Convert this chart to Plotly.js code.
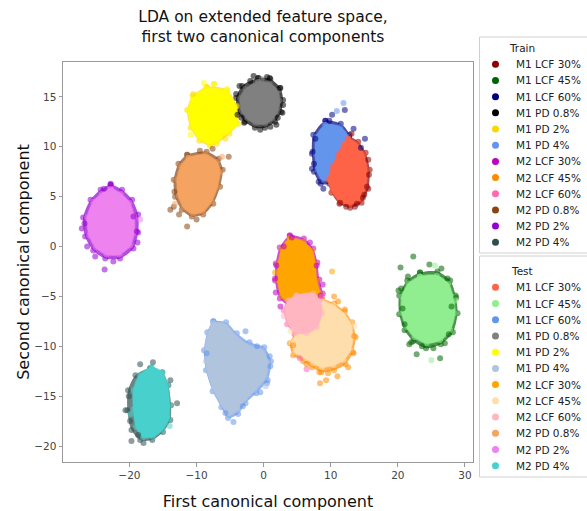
<!DOCTYPE html>
<html><head><meta charset="utf-8">
<script src="https://cdn.plot.ly/plotly-3.0.1.min.js"></script>
<style>html,body{margin:0;padding:0;background:#fff}#chart{width:587px;height:511px}</style>
</head><body><div id="chart"></div>
<script>
// ---- data ----
const seriesNames = ['M1 LCF 30%','M1 LCF 45%','M1 LCF 60%','M1 PD 0.8%','M1 PD 2%','M1 PD 4%',
                     'M2 LCF 30%','M2 LCF 45%','M2 LCF 60%','M2 PD 0.8%','M2 PD 2%','M2 PD 4%'];
const trainColors = ['#8B0000','#006400','#000080','#000000','#FFD700','#6495ED',
                     '#BF00BF','#FF8C00','#FF69B4','#8B4513','#9400D3','#2F4F4F'];
const testColors  = ['#FF6347','#90EE90','#6495ED','#808080','#FFFF00','#B0C4DE',
                     '#FFA500','#FFDEAD','#FFB6C1','#F4A460','#EE82EE','#48D1CC'];

// dense body outlines of each cluster (train)
const trainHullX = [
  [12.7,14.1,15.2,15.8,15.6,14.6,12.9,11.3,10.1,9.6,10.2,11.1,11.9],
  [23.3,25.9,27.8,28.6,28.9,28.2,26.4,24.2,22.3,21.0,20.2,20.2,21.4],
  [9.2,11.5,12.8,12.6,11.4,9.8,8.5,7.5,7.2,7.4],
  [-0.8,1.0,2.5,2.9,2.6,1.7,0.2,-1.3,-2.8,-3.8,-4.1,-3.2],
  [-8.5,-5.4,-4.0,-3.8,-5.1,-7.0,-8.0,-9.6,-10.9,-11.4,-10.6],
  [-7.5,-5.6,-4.0,-2.1,0.1,1.1,0.6,-1.1,-2.7,-3.8,-5.3,-6.3,-7.6,-8.6,-8.9,-8.4],
  [3.9,6.0,7.4,8.0,8.3,8.8,8.2,6.4,4.3,2.4,1.7,1.8,2.4],
  [8.7,10.5,12.1,13.2,13.7,13.3,12.2,10.5,8.6,7.2,5.9,4.4,3.9,4.7,6.9,8.2,8.4],
  [4.9,7.4,8.5,8.8,8.0,6.4,4.6,3.5,3.0,3.5],
  [-11.4,-8.5,-6.7,-6.1,-6.5,-7.5,-9.0,-10.7,-12.2,-13.2,-13.4,-12.7],
  [-22.8,-21.1,-19.6,-18.7,-18.7,-19.4,-21.4,-23.6,-25.4,-26.6,-26.9,-25.8,-24.3],
  [-16.9,-15.1,-14.2,-13.8,-13.9,-15.0,-16.6,-18.4,-19.7,-20.3,-20.2,-19.1]
];
const trainHullY = [
  [11.0,10.5,9.4,7.7,5.8,4.4,3.9,4.3,5.4,6.7,8.0,9.3,10.4],
  [-2.6,-2.5,-3.4,-4.9,-6.7,-8.6,-9.8,-10.2,-9.5,-8.4,-6.8,-4.9,-3.4],
  [12.6,12.3,11.2,9.3,7.5,6.3,6.3,7.5,9.3,11.2],
  [16.9,16.8,15.9,14.7,13.5,12.5,11.9,11.9,12.5,13.5,14.9,16.1],
  [16.0,15.7,14.1,12.3,11.3,10.3,10.1,10.6,11.9,13.7,15.1],
  [-7.5,-7.6,-8.7,-9.6,-10.1,-11.5,-13.4,-14.7,-15.7,-16.8,-17.2,-16.1,-14.5,-12.4,-10.4,-8.6],
  [1.1,0.8,-0.2,-1.6,-3.3,-4.7,-6.0,-6.4,-6.1,-5.2,-3.4,-1.7,-0.1],
  [-5.3,-5.7,-6.5,-7.6,-9.1,-10.6,-11.8,-12.4,-12.6,-12.1,-11.5,-10.9,-9.7,-8.8,-8.3,-7.0,-6.0],
  [-4.7,-4.5,-5.3,-6.7,-8.2,-8.9,-8.8,-7.8,-6.4,-5.3],
  [9.2,9.5,8.8,7.7,6.0,4.3,3.2,3.0,3.7,5.0,6.7,8.3],
  [6.2,5.7,4.7,3.2,1.4,-0.2,-1.2,-1.2,-0.4,1.0,2.9,4.7,5.7],
  [-12.2,-12.6,-13.9,-15.9,-17.4,-18.6,-19.4,-19.4,-18.4,-16.4,-14.4,-12.9]
];
// dense body outlines of each cluster (test)
const testHullX = [
  [12.6,13.9,14.9,15.4,15.2,14.4,12.9,11.4,10.2,9.6,10.2,11.1,11.9],
  [23.3,25.8,27.5,28.2,28.5,27.8,26.3,24.3,22.5,21.3,20.6,20.6,21.6],
  [9.2,11.4,12.6,12.4,11.4,9.9,8.7,7.9,7.7,7.8],
  [-0.8,0.9,2.1,2.4,2.1,1.4,0.2,-1.2,-2.4,-3.3,-3.5,-2.7],
  [-8.5,-5.5,-4.2,-4.0,-5.2,-7.0,-8.0,-9.5,-10.7,-11.2,-10.5],
  [-7.5,-5.7,-4.2,-2.3,-0.2,0.7,0.2,-1.3,-2.8,-3.9,-5.3,-6.2,-7.5,-8.4,-8.7,-8.3],
  [3.9,5.9,7.2,7.7,7.9,8.4,7.9,6.4,4.4,2.7,2.1,2.2,2.7],
  [8.7,10.4,11.9,12.9,13.3,12.9,11.9,10.4,8.7,7.4,6.2,4.7,4.2,4.9,6.9,8.2,8.4],
  [4.9,7.4,8.4,8.7,7.9,6.4,4.7,3.7,3.2,3.7],
  [-11.2,-8.6,-7.0,-6.5,-6.9,-7.8,-9.1,-10.6,-11.9,-12.7,-12.9,-12.3],
  [-22.8,-21.3,-20.0,-19.3,-19.3,-19.9,-21.5,-23.4,-25.0,-26.0,-26.3,-25.4,-24.1],
  [-16.7,-15.1,-14.3,-14.0,-14.1,-15.1,-16.5,-18.0,-19.0,-19.4,-19.4,-18.5]
];
const testHullY = [
  [10.8,10.3,9.3,7.7,6.0,4.7,4.2,4.5,5.5,6.7,8.0,9.3,10.3],
  [-3.0,-2.9,-3.7,-5.0,-6.7,-8.4,-9.4,-9.7,-9.1,-8.1,-6.7,-5.0,-3.7],
  [12.2,12.0,11.0,9.3,7.7,6.7,6.7,7.7,9.3,11.0],
  [16.5,16.4,15.6,14.6,13.6,12.8,12.3,12.3,12.8,13.6,14.9,15.8],
  [15.8,15.5,14.0,12.3,11.5,10.5,10.3,10.8,12.0,13.7,15.0],
  [-7.7,-7.8,-8.9,-9.9,-10.4,-11.6,-13.2,-14.4,-15.4,-16.4,-16.9,-15.9,-14.4,-12.4,-10.4,-8.7],
  [0.8,0.5,-0.4,-1.7,-3.4,-4.7,-5.9,-6.2,-5.9,-5.0,-3.4,-1.7,-0.2],
  [-5.5,-5.9,-6.7,-7.7,-9.1,-10.4,-11.4,-11.9,-12.1,-11.7,-11.2,-10.6,-9.6,-8.9,-8.4,-7.0,-6.0],
  [-4.9,-4.7,-5.4,-6.7,-8.1,-8.7,-8.6,-7.7,-6.4,-5.4],
  [8.9,9.2,8.5,7.5,6.0,4.5,3.5,3.3,3.9,5.1,6.7,8.1],
  [5.8,5.3,4.4,3.0,1.4,0.1,-0.8,-0.8,-0.1,1.1,2.9,4.5,5.3],
  [-12.1,-12.6,-13.9,-15.9,-17.3,-18.4,-19.1,-19.1,-18.1,-16.3,-14.4,-12.9]
];
// scattered individual points (train)
const trainDotsX = [
  [15.4,13.9,11.4,13.1,15.6,15.0,14.8,12.3,15.7,13.6],
  [22.3,20.4,20.1,21.7,22.8,26.3,24.7,26.5,27.4,28.0,20.7,25.3,21.0,27.6,23.6,21.5,28.7,27.0,20.5,22.0],
  [12.1,10.2,15.1,7.2,8.9,13.4,7.7,14.5,7.5,8.2,7.3,9.8],
  [0.5,-2.0,2.9,1.0,-3.9,-0.5,2.4,-4.1,-2.9,1.9,-3.6,2.8,-1.5,0.9,-3.3,2.1],
  [-7.4,-10.5,-5.7],
  [-2.7,-1.0,0.5,-8.5,-5.7,-4.5,1.0,-0.5,0.9,-3.1],
  [4.2,6.9,8.8,1.7,2.5,3.0,7.9,1.9,8.5,1.8],
  [8.4,9.3,11.0,12.6,13.5,12.1,10.5,11.1,8.3,9.6,4.4,13.4,6.4],
  [6.4,5.4,8.7],
  [-13.9,-11.4,-5.2,-7.6,-13.4,-12.6,-9.5,-13.3,-10.0],
  [-22.8,-23.8,-27.1,-25.1,-23.7,-22.4,-19.4,-18.9,-26.3,-18.8,-26.7],
  [-16.5,-18.4,-12.9,-19.7,-17.9,-20.6,-13.9,-19.9,-20.1,-18.7]
];
const trainDotsY = [
  [6.0,4.3,4.4,11.3,8.7,5.2,4.9,4.0,7.2,4.0],
  [-1.0,-2.1,-4.4,-9.8,-10.8,-11.2,-1.8,-2.2,-3.2,-6.0,-6.2,-10.2,-7.8,-8.8,-10.0,-3.0,-5.1,-9.7,-4.2,-9.6],
  [13.7,13.2,10.8,7.8,5.8,11.8,10.8,9.9,8.3,6.5,9.5,12.6],
  [17.0,16.6,14.2,12.0,13.2,11.7,15.9,15.3,12.4,12.2,16.1,13.4,17.1,16.9,12.9,12.9],
  [16.3,15.3,10.8],
  [-8.5,-10.0,-13.7,-10.7,-16.7,-17.6,-12.0,-14.6,-11.0,-16.0],
  [0.9,0.4,-3.8,-3.2,-6.0,0.0,-1.9,-1.9,-4.9,-4.6],
  [-13.7,-13.4,-13.0,-12.1,-9.0,-6.3,-5.0,-5.5,-12.6,-12.7,-9.9,-10.7,-11.8],
  [-12.3,-11.2,-5.0],
  [3.7,2.0,9.0,9.8,4.0,3.2,9.6,5.5,2.7],
  [6.3,5.8,1.8,-1.0,-2.3,-1.5,3.0,1.5,0.0,0.4,2.3],
  [-11.6,-11.8,-15.7,-19.5,-19.7,-16.4,-13.4,-17.5,-15.0,-18.9]
];
// scattered individual points (test)
const testDotsX = [
  [10.5,11.6],
  [25.5,25.0,28.6],
  [11.9,10.9],
  [-0.3],
  [-8.9,-7.4,-10.9,-5.5],
  [-8.6,0.3],
  [1.7,10.2],
  [4.0,13.5],
  [3.0],
  [-6.2,-13.2],
  [-18.4],
  [-19.8,-14.0]
];
const testDotsY = [
  [7.4,6.2],
  [-1.9,-11.4,-5.4],
  [14.4,13.6],
  [16.8],
  [16.4,16.3,11.2,15.8],
  [-11.5,-14.0],
  [-2.6,-2.5],
  [-8.5,-8.0],
  [-7.0],
  [9.0,4.3],
  [2.7],
  [-16.8,-18.0]
];
const testDrawOrder = [2,0,1,3,4,5,6,7,8,9,10,11];

// ---- chart ----
const W = 587, H = 511, M = {l:63, r:114, t:62, b:49};
const pw = W - M.l - M.r, ph = H - M.t - M.b;
function paperX(px){ return (px - M.l) / pw; }
function paperY(py){ return (H - M.b - py) / ph; }
function rgba(hex, a){
  const n = parseInt(hex.slice(1),16);
  return 'rgba('+((n>>16)&255)+','+((n>>8)&255)+','+(n&255)+','+a+')';
}
const traces = [];
function hullTrace(hx, hy, col, fillA, lineW){
  return {x: hx.concat([hx[0]]), y: hy.concat([hy[0]]), type:'scatter', mode:'lines+markers',
    fill:'toself', fillcolor: rgba(col, fillA), line:{color: rgba(col,0.6), width: lineW, shape:'spline', smoothing:0.8},
    marker:{size:6, color: rgba(col,0.55)}, showlegend:false, hoverinfo:'skip'};
}
function dotsTrace(dx, dy, col){
  return {x: dx, y: dy, type:'scatter', mode:'markers',
    marker:{size:6, color: rgba(col,0.55), line:{width:0}}, showlegend:false, hoverinfo:'skip'};
}
for (let i=0;i<seriesNames.length;i++) traces.push(hullTrace(trainHullX[i], trainHullY[i], trainColors[i], 0.7, 0));
for (const i of testDrawOrder) traces.push(hullTrace(testHullX[i], testHullY[i], testColors[i], 1, 1.5));
for (let i=0;i<seriesNames.length;i++) traces.push(dotsTrace(trainDotsX[i], trainDotsY[i], trainColors[i]));
for (let i=0;i<seriesNames.length;i++) traces.push(dotsTrace(testDotsX[i], testDotsY[i], testColors[i]));

// legend boxes drawn as shapes + annotations
const shapes = [], annotations = [];
function addLegend(title, colors, boxTop, boxBottom, titleY, firstY, step){
  shapes.push({type:'rect', xref:'paper', yref:'paper', x0:paperX(479.5), x1:paperX(610),
    y0:paperY(boxBottom), y1:paperY(boxTop), line:{color:'#d0d0d0', width:1}, fillcolor:'rgba(255,255,255,0.9)', layer:'above'});
  annotations.push({xref:'paper', yref:'paper', x:paperX(522), y:paperY(titleY), text:title, showarrow:false,
    xanchor:'center', yanchor:'middle', font:{size:10.5, color:'#222'}});
  for (let i=0;i<seriesNames.length;i++){
    const cy = firstY + i*step;
    shapes.push({type:'circle', xref:'paper', yref:'paper', xsizemode:'pixel', ysizemode:'pixel',
      xanchor:paperX(495.5), yanchor:paperY(cy), x0:-3.5, x1:3.5, y0:-3.5, y1:3.5,
      fillcolor:colors[i], line:{width:0}, layer:'above'});
    annotations.push({xref:'paper', yref:'paper', x:paperX(514), y:paperY(cy), text:seriesNames[i], showarrow:false,
      xanchor:'left', yanchor:'middle', font:{size:10.5, color:'#222'}});
  }
}
addLegend('Train', trainColors, 37, 253, 48, 64.3, 16.18);
addLegend('Test', testColors, 256, 477, 271, 287.3, 16.22);

const axisCommon = {showgrid:false, zeroline:false, showline:true, mirror:true, linecolor:'#999', linewidth:1,
  ticks:'outside', ticklen:3.5, tickcolor:'#999', tickfont:{size:10.5, color:'#444'}, automargin:false};
const layout = {
  width:W, height:H,
  font:{family:'DejaVu Sans, sans-serif', color:'#222'},
  paper_bgcolor:'#fff', plot_bgcolor:'#fff',
  margin:{l:M.l, r:M.r, t:M.t, b:M.b, autoexpand:false},
  title:{text:'LDA on extended feature space,<br>first two canonical components', x:paperX(263), xref:'paper',
    xanchor:'center', yref:'container', y:0.9575, yanchor:'top', font:{size:15.5, color:'#111'}},
  xaxis: Object.assign({}, axisCommon, {range:[-29.9,31.2], tick0:0, dtick:10,
    title:{text:'First canonical component', font:{size:16, color:'#111'}, standoff:15}}),
  yaxis: Object.assign({}, axisCommon, {range:[-21.6,18.5], tick0:0, dtick:5,
    title:{text:'Second canonical component', font:{size:16, color:'#111'}, standoff:0}}),
  showlegend:false,
  shapes: shapes,
  annotations: annotations
};
Plotly.newPlot('chart', traces, layout, {staticPlot:true, displayModeBar:false});
</script>
</body></html>
